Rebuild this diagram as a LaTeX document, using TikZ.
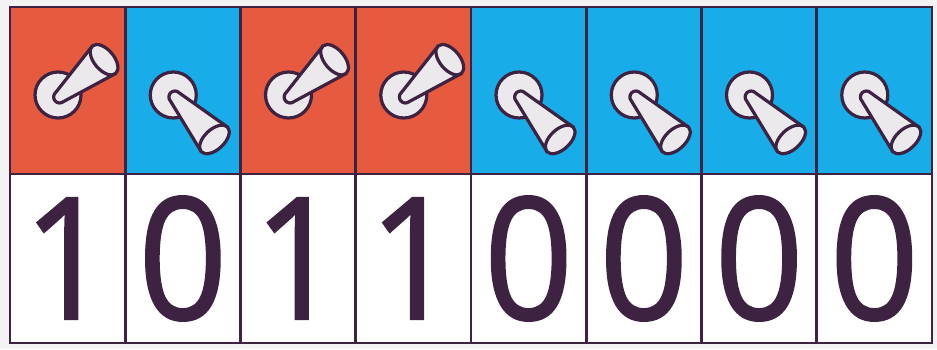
\documentclass[tikz,border=0pt]{standalone}
\usepackage{fontspec}
\newfontfamily\digitfont[FakeBold=1.2]{Open Sans}
\usetikzlibrary{positioning}
\definecolor{bitOn}{RGB}{230,90,64}
\definecolor{bitOff}{RGB}{24,172,232}
\definecolor{frameInk}{RGB}{62,34,66}
\definecolor{leverFill}{RGB}{236,233,237}
\definecolor{paperBg}{RGB}{244,243,243}

% lever of a toggle switch: #1 = pivot, #2 = angle
\newcommand{\lever}[2]{%
  \begin{scope}[shift={#1}, rotate=#2]
    \draw[switchline] (0,-6) arc[start angle=270, end angle=90, radius=6]
      -- (58,18) -- (58,-18) -- cycle;
    \draw[switchline] (58,0) ellipse [x radius=10, y radius=18];
  \end{scope}}

\begin{document}
\begin{tikzpicture}[x=1pt, y=1pt,
    topcell/.style={draw=frameInk, line width=2.6pt, minimum width=115.25pt,
      minimum height=167pt, inner sep=0pt, outer sep=0pt},
    digitcell/.style={draw=frameInk, line width=2.6pt, fill=white, text=frameInk,
      minimum width=115.25pt, minimum height=169pt, inner sep=0pt, outer sep=0pt,
      font=\digitfont\fontsize{170}{170}\selectfont},
    switchline/.style={draw=frameInk, fill=leverFill, line width=3.2pt, line join=round}]
  % paper
  \fill[paperBg] (0,0) rectangle (937,349);
  \useasboundingbox (0,0) rectangle (937,349);
  % one column per bit: switch on top, digit below
  \foreach \b/\col/\ang [count=\i] in {1/bitOn/40, 0/bitOff/-47, 1/bitOn/40, 1/bitOn/40,
      0/bitOff/-47, 0/bitOff/-47, 0/bitOff/-47, 0/bitOff/-47} {
    \pgfmathsetmacro{\cx}{10+115.25*(\i-0.5)}
    \node[topcell, fill=\col] (sw\i) at (\cx,258.5) {};
    \node[digitcell, below=0pt of sw\i] (bit\i) {\scalebox{0.92}[1]{\b}};
    % base of the switch
    \draw[switchline] ([shift={(-9.6,-4.5)}]sw\i.center) circle (23);
    \lever{([shift={(-8,-6.5)}]sw\i.center)}{\ang}
  }
\end{tikzpicture}
\end{document}
